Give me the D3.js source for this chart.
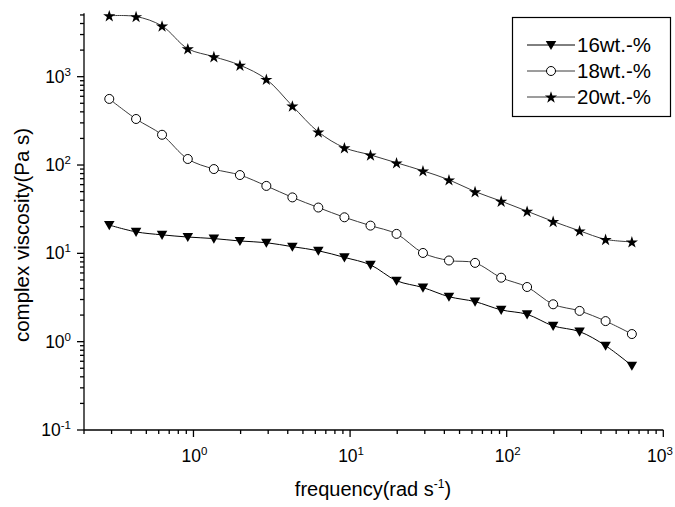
<html>
<head>
  <script src="https://cdn.jsdelivr.net/npm/d3@7"></script>
  <style>
    body { margin: 0; background: #fff; }
    svg text { font-family: "Liberation Sans", Arial, Helvetica, sans-serif; fill: #000; }
  </style>
</head>
<body>
  <svg id="chart" width="675" height="507"></svg>

  <script>
    // frequency (rad/s) and complex viscosity (Pa s)
    const freq = [0.29, 0.43, 0.63, 0.92, 1.35, 1.98, 2.92, 4.28, 6.27, 9.2, 13.5,
                  19.8, 29.2, 42.8, 62.8, 92.2, 135, 198, 292, 428, 630];
    const wt16 = [20.9, 17.5, 16.2, 15.3, 14.7, 13.8, 13.2, 11.9, 10.7, 9.0, 7.4,
                  4.9, 4.1, 3.23, 2.84, 2.29, 2.04, 1.51, 1.30, 0.90, 0.535];
    const wt18 = [560, 332, 220, 117, 90, 77, 58, 43, 33, 25.6, 20.6,
                  16.6, 10.1, 8.3, 7.8, 5.3, 4.16, 2.65, 2.23, 1.71, 1.22];
    const wt20 = [4900, 4800, 3750, 2075, 1685, 1350, 935, 466, 237, 157, 130,
                  106, 86, 68, 50, 39, 30, 23, 18, 14.4, 13.5];
    const seriesNames = ['16wt.-%', '18wt.-%', '20wt.-%'];
    const xTickExps = [0, 1, 2, 3];
    const yTickExps = [-1, 0, 1, 2, 3];

    const series = [
      {name: seriesNames[0], values: wt16, marker: 'tri', stroke: '#000'},
      {name: seriesNames[1], values: wt18, marker: 'circle', stroke: '#3a3a3a'},
      {name: seriesNames[2], values: wt20, marker: 'star', stroke: '#3a3a3a'}
    ];

    const plotL = 84, plotR = 663.3, plotT = 13.3, plotB = 430;
    const x = d3.scaleLog().domain([0.2, 1000]).range([plotL, plotR]);
    const y = d3.scaleLog().domain([0.1, 5220]).range([plotB, plotT]);

    const svg = d3.select('#chart');

    // minor ticks (2..9 per decade, inside the domain)
    function minors(dom) {
      const out = [];
      for (let e = -2; e <= 4; e++) {
        for (let m = 2; m <= 9; m++) {
          const v = m * Math.pow(10, e);
          if (v >= dom[0] * 0.999 && v <= dom[1] * 1.001) out.push(v);
        }
      }
      return out;
    }

    const axes = svg.append('g').attr('stroke', '#000').attr('stroke-width', 1.3);
    axes.append('line').attr('x1', plotL).attr('x2', plotR).attr('y1', plotB).attr('y2', plotB);
    axes.append('line').attr('x1', plotL).attr('x2', plotL).attr('y1', plotT).attr('y2', plotB);

    axes.selectAll('.xmin').data(minors(x.domain())).enter().append('line')
      .attr('x1', d => x(d)).attr('x2', d => x(d)).attr('y1', plotB).attr('y2', plotB + 4);
    axes.selectAll('.xmaj').data(xTickExps).enter().append('line')
      .attr('x1', d => x(Math.pow(10, d))).attr('x2', d => x(Math.pow(10, d)))
      .attr('y1', plotB).attr('y2', plotB + 7);
    axes.selectAll('.ymin').data(minors(y.domain())).enter().append('line')
      .attr('y1', d => y(d)).attr('y2', d => y(d)).attr('x1', plotL).attr('x2', plotL - 4);
    axes.selectAll('.ymaj').data(yTickExps).enter().append('line')
      .attr('y1', d => y(Math.pow(10, d))).attr('y2', d => y(Math.pow(10, d)))
      .attr('x1', plotL).attr('x2', plotL - 7);

    // tick labels as 10 with superscript (last one kept inside the page)
    const xl = svg.selectAll('.xl').data(xTickExps).enter().append('text')
      .attr('x', d => Math.min(x(Math.pow(10, d)) + 1, 660)).attr('y', 462)
      .attr('text-anchor', 'middle').style('font-size', '17.5px');
    xl.append('tspan').text('10');
    xl.append('tspan').attr('dy', -7).style('font-size', '11.5px').text(d => d);

    const yl = svg.selectAll('.yl').data(yTickExps).enter().append('text')
      .attr('x', 71).attr('y', d => y(Math.pow(10, d)) + 6)
      .attr('text-anchor', 'end').style('font-size', '17.5px');
    yl.append('tspan').text('10');
    yl.append('tspan').attr('dy', -7).style('font-size', '11.5px').text(d => d);

    // axis titles
    const xt = svg.append('text').attr('x', 373).attr('y', 496)
      .attr('text-anchor', 'middle').style('font-size', '20px');
    xt.append('tspan').text('frequency(rad s');
    xt.append('tspan').attr('dy', -8).style('font-size', '12px').text('-1');
    xt.append('tspan').attr('dy', 8).text(')');

    svg.append('text').attr('transform', 'translate(29,235) rotate(-90)')
      .attr('text-anchor', 'middle').style('font-size', '20.5px')
      .text('complex viscosity(Pa s)');

    // markers
    const starPath = d3.symbol().type(d3.symbolStar).size(46)();
    const triPath = d3.symbol().type(d3.symbolTriangle).size(48)();
    function drawMarker(g, kind, cx, cy) {
      if (kind === 'circle') {
        g.append('circle').attr('cx', cx).attr('cy', cy).attr('r', 4.5)
          .attr('fill', '#fff').attr('stroke', '#000').attr('stroke-width', 1);
      } else if (kind === 'star') {
        g.append('path').attr('d', starPath).attr('fill', '#000')
          .attr('transform', `translate(${cx},${cy + 0.6})`);
      } else {
        g.append('path').attr('d', triPath).attr('fill', '#000')
          .attr('transform', `translate(${cx},${cy - 1}) rotate(180)`);
      }
    }

    const line = d3.line()
      .x(d => x(d[0])).y(d => y(d[1]))
      .curve(d3.curveCatmullRom.alpha(0.5));

    series.forEach(s => {
      const pts = freq.map((f, i) => [f, s.values[i]]);
      svg.append('path').datum(pts).attr('d', line)
        .attr('fill', 'none').attr('stroke', s.stroke).attr('stroke-width', 1);
      const g = svg.append('g');
      pts.forEach(p => drawMarker(g, s.marker, x(p[0]), y(p[1])));
    });

    // legend
    const lg = svg.append('g');
    lg.append('rect').attr('x', 512.5).attr('y', 17.5).attr('width', 158).attr('height', 99)
      .attr('fill', '#fff').attr('stroke', '#000').attr('stroke-width', 1.2);
    series.forEach((s, i) => {
      const ly = 45 + i * 26;
      lg.append('line').attr('x1', 527).attr('x2', 575).attr('y1', ly).attr('y2', ly)
        .attr('stroke', s.stroke).attr('stroke-width', 1);
      drawMarker(lg, s.marker, 551, ly);
      lg.append('text').attr('x', 577).attr('y', ly + 7).style('font-size', '20.5px').text(s.name);
    });
  </script>
</body>
</html>
